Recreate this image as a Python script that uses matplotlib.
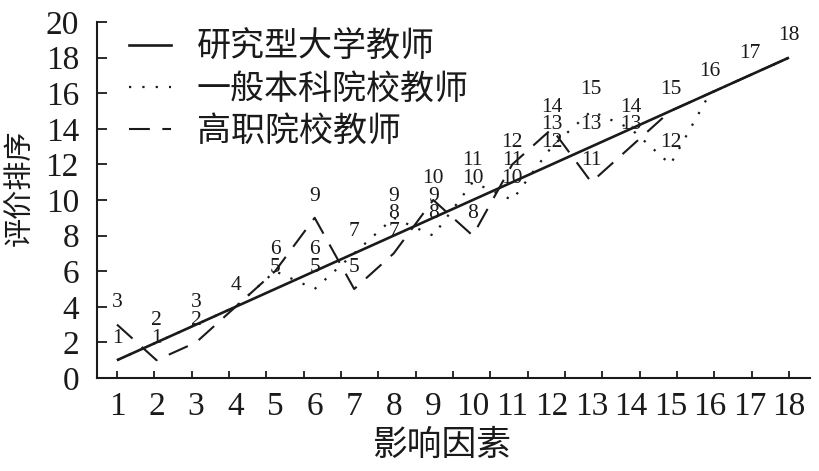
import matplotlib
matplotlib.use("Agg")
import matplotlib.pyplot as plt
import numpy as np
from matplotlib.lines import Line2D

plt.rcParams['font.family'] = ['Liberation Serif', 'Noto Sans CJK SC', 'DejaVu Sans']

factors = list(range(1, 18 + 1))
research_univ = [1, 2, 3, 4, 5, 6, 7, 8, 9, 10, 11, 12, 13, 14, 15, 16, 17, 18]
general_univ = [1, 2, 3, 4, 6, 5, 7, 9, 8, 11, 10, 13, 15, 14, 12, 16, 17, 18]
vocational = [3, 1, 2, 4, 6, 9, 5, 7, 10, 8, 12, 14, 11, 13, 15, 16, 17, 18]
series_names = ['研究型大学教师', '一般本科院校教师', '高职院校教师']
y_ticks = list(range(0, 21, 2))

W, H = 819, 471
fig = plt.figure(figsize=(W / 100, H / 100), dpi=100)
ax_l, ax_r, ax_b, ax_t = 97, 810, 378, 22
ax = fig.add_axes([ax_l / W, 1 - ax_b / H, (ax_r - ax_l) / W, (ax_b - ax_t) / H])

c = '#1a1a1a'
ax.plot(factors, research_univ, color=c, lw=1.9, solid_capstyle='butt')
ax.plot(factors, general_univ, color=c, lw=1.6, linestyle=(0, (1, 5)))
ax.plot(factors, vocational, color=c, lw=1.5, linestyle=(0, (10, 6)))

# data labels: unique values at each factor
for i, x in enumerate(factors):
    vals = sorted(set([research_univ[i], general_univ[i], vocational[i]]))
    for v in vals:
        ax.text(x, v + 1.22, str(v), ha='center', va='center', fontsize=15.5,
                color=c, family=['Liberation Serif'])

ax.set_xlim(1 - 20 / 39.53, 18 + 21 / 39.53)
ax.set_ylim(0, 20)

for s in ['top', 'right']:
    ax.spines[s].set_visible(False)
for s in ['left', 'bottom']:
    ax.spines[s].set_linewidth(1.5)
    ax.spines[s].set_color(c)

ax.set_yticks(y_ticks)
ax.set_yticklabels([str(t) for t in y_ticks], fontsize=24)
ax.tick_params(axis='y', direction='in', length=7, width=1.3, pad=13, colors=c)

# tick marks (19 evenly spaced) and labels at the factor positions
ax.xaxis.remove_overlapping_locs = False
ax.set_xticks(np.linspace(factors[0], factors[-1], 19))
ax.set_xticklabels([])
ax.tick_params(axis='x', which='major', direction='in', length=5, width=1.3, colors=c)
ax.set_xticks(factors, minor=True)
ax.set_xticklabels([str(f) for f in factors], minor=True, fontsize=24)
ax.tick_params(axis='x', which='minor', length=0, pad=10, colors=c)

fig.text(20 / W, 1 - 188 / H, '评价排序', rotation=90, ha='center', va='center',
         fontsize=21, color=c, family=['Noto Sans CJK SC'])
fig.text(442 / W, 1 - 445 / H, '影响因素', ha='center', va='center',
         fontsize=25, color=c, family=['Noto Sans CJK SC'])

handles = [Line2D([], [], color=c, lw=1.9),
           Line2D([], [], color=c, lw=1.6, linestyle=(0, (1, 5))),
           Line2D([], [], color=c, lw=1.5, linestyle=(0, (10, 6)))]
leg = ax.legend(handles, series_names, loc='upper left', bbox_to_anchor=(18 / 713, 1.015),
                frameon=False, prop={'family': 'Noto Sans CJK SC', 'size': 24.5},
                handlelength=1.25, handletextpad=0.75, labelspacing=0.2, borderaxespad=0.0)
for t in leg.get_texts():
    t.set_color(c)

fig.savefig('out.png', dpi=100)
